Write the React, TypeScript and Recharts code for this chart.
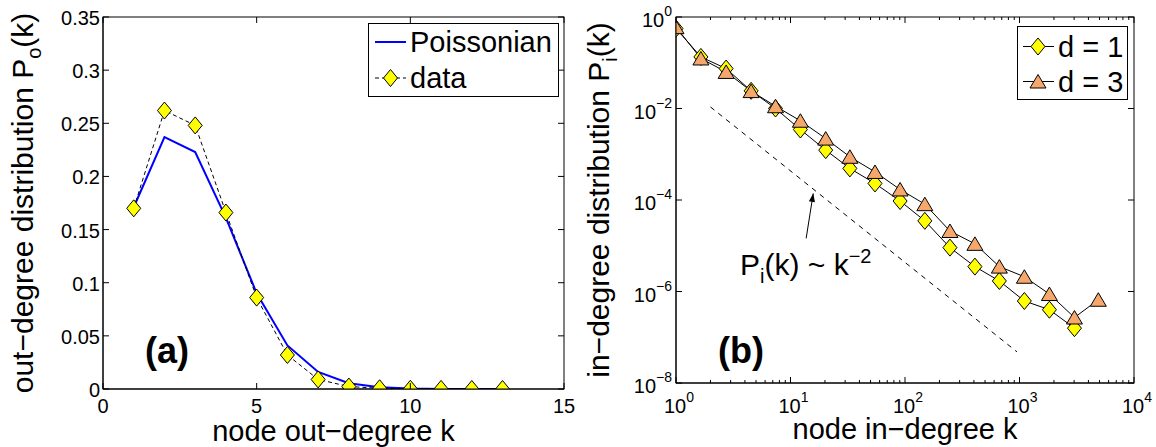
import React from "react";
import { LineChart, Line, XAxis, YAxis, Legend, ReferenceLine } from "recharts";

const FONT = "'Liberation Sans', Arial, Helvetica, sans-serif";

// (a) out-degree distribution
const outK = [1, 2, 3, 4, 5, 6, 7, 8, 9, 10, 11, 12, 13];
const outPoisson = [0.171, 0.237, 0.223, 0.161, 0.09, 0.041, 0.016, 0.0055, 0.0016, 0.0004, 0.0001, 0, 0];
const outData = [0.17, 0.262, 0.248, 0.166, 0.086, 0.032, 0.009, 0.0023, 0.0007, 0.0002, 0.0001, 0, 0];
const outXTicks = [0, 5, 10, 15];
const outYTicks = [0, 0.05, 0.1, 0.15, 0.2, 0.25, 0.3, 0.35];

// (b) in-degree distribution, log bins
const inK = [1, 1.65, 2.74, 4.53, 7.4, 12.2, 20.3, 33, 54.7, 90.6, 149, 247, 408, 667, 1103, 1825, 3020, 4880];
const inD1 = [0.56, 0.134, 0.0746, 0.0243, 0.01, 0.00347, 0.00123, 0.00049, 0.00023, 9.5e-5, 3.5e-5, 9.1e-6, 3.5e-6, 1.7e-6, 6.2e-7, 4e-7, 1.58e-7];
const inD3 = [0.6, 0.124, 0.063, 0.024, 0.0112, 0.0054, 0.0022, 0.00088, 0.00041, 0.00017, 8.1e-5, 2.1e-5, 1.1e-5, 3.5e-6, 2.1e-6, 8.8e-7, 2.7e-7, 6.6e-7];
const inXMajor = [1, 10, 100, 1000, 10000];
const inXMinor = [1, 10, 100, 1000].flatMap((d) => [2, 3, 4, 5, 6, 7, 8, 9].map((m) => m * d));
const inYTicks = [1e-8, 1e-6, 1e-4, 1e-2, 1];
const guideK = [2, 950];
const guideP = [0.0108, 4.8e-8];
const arrowK = [13.7, 15.8];
const arrowP = [1.45e-5, 1.39e-4];

const outRows = outK.map((k, i) => ({ k, poisson: outPoisson[i], data: outData[i] }));
const d1Rows = inD1.map((p, i) => ({ k: inK[i], p }));
const d3Rows = inD3.map((p, i) => ({ k: inK[i], p }));
const inXTicks = [...inXMajor, ...inXMinor].sort((a, b) => a - b);

// plot boxes (page px), matching the chart margins + axis sizes below
const boxA = { l: 103, r: 564, t: 17, b: 389 };
const boxB = { l: 676, r: 1134, t: 17, b: 383 };

const Diamond = ({ cx, cy }: any) =>
  cx == null || cy == null ? null : (
    <polygon
      points={`${cx},${cy - 8.5} ${cx + 7},${cy} ${cx},${cy + 8.5} ${cx - 7},${cy}`}
      fill="#ffff00"
      stroke="#000"
      strokeWidth={1}
    />
  );

const Triangle = ({ cx, cy }: any) =>
  cx == null || cy == null ? null : (
    <polygon
      points={`${cx},${cy - 7} ${cx + 8},${cy + 6.5} ${cx - 8},${cy + 6.5}`}
      fill="#f6a86c"
      stroke="#000"
      strokeWidth={1}
    />
  );

const exp = (v: number) => {
  const e = Math.round(Math.log10(v));
  return e < 0 ? `\u2212${-e}` : `${e}`;
};

const LinBottomTick = ({ x, y, payload }: any) => (
  <text x={x} y={y + 24} textAnchor="middle" fontSize={20} fontFamily={FONT} fill="#000">
    {payload.value}
  </text>
);
const LinLeftTick = ({ x, y, payload }: any) => (
  <text x={x - 3} y={y + 8} textAnchor="end" fontSize={20} fontFamily={FONT} fill="#000">
    {payload.value}
  </text>
);
const LogBottomTick = ({ x, y, payload }: any) =>
  inXMajor.includes(payload.value) ? (
    <text x={x + 3} y={y + 30} textAnchor="middle" fontSize={20} fontFamily={FONT} fill="#000">
      10
      <tspan dy={-11} fontSize={14}>
        {exp(payload.value)}
      </tspan>
    </text>
  ) : (
    <g />
  );
const LogLeftTick = ({ x, y, payload }: any) => (
  <text x={x - 4} y={y + 10} textAnchor="end" fontSize={20} fontFamily={FONT} fill="#000">
    10
    <tspan dy={-11} fontSize={14}>
      {exp(payload.value)}
    </tspan>
  </text>
);

// box with inward tick marks on all four sides (MATLAB "box on")
const Frame = ({ box, xs, ys, major }: any) => (
  <g stroke="#000" strokeWidth={1} fill="none">
    <rect x={box.l} y={box.t} width={box.r - box.l} height={box.b - box.t} />
    {xs.map(([v, px]: number[]) => {
      const len = major(v) ? 6 : 3;
      return (
        <g key={`x${v}`}>
          <line x1={px} y1={box.b} x2={px} y2={box.b - len} />
          <line x1={px} y1={box.t} x2={px} y2={box.t + len} />
        </g>
      );
    })}
    {ys.map(([v, py]: number[]) => (
      <g key={`y${v}`}>
        <line x1={box.l} y1={py} x2={box.l + 6} y2={py} />
        <line x1={box.r} y1={py} x2={box.r - 6} y2={py} />
      </g>
    ))}
  </g>
);

const OutLegend = ({ payload }: any) => (
  <svg width={192} height={75} style={{ display: "block" }}>
    <rect x={0.5} y={0.5} width={190} height={73} fill="#fff" stroke="#000" />
    {(payload || []).map((item: any, i: number) => {
      const cy = 19 + i * 36;
      return (
        <g key={item.value}>
          {i === 0 ? (
            <line x1={7} y1={cy} x2={38} y2={cy} stroke="#0000ff" strokeWidth={2} />
          ) : (
            <>
              <line x1={7} y1={cy} x2={38} y2={cy} stroke="#000" strokeDasharray="4 3" />
              <Diamond cx={22.5} cy={cy} />
            </>
          )}
          <text x={42} y={cy + 10} fontSize={29} fontFamily={FONT} fill="#000">
            {item.value}
          </text>
        </g>
      );
    })}
  </svg>
);

const InLegend = ({ payload }: any) => (
  <svg width={111} height={74} style={{ display: "block" }}>
    <rect x={0.5} y={0.5} width={110} height={73} fill="#fff" stroke="#000" />
    {(payload || []).map((item: any, i: number) => {
      const cy = 20.5 + i * 35;
      return (
        <g key={item.value}>
          <line x1={6} y1={cy} x2={37} y2={cy} stroke="#000" />
          {i === 0 ? <Diamond cx={21} cy={cy} /> : <Triangle cx={21} cy={cy} />}
          <text x={41} y={cy + 10} fontSize={29} fontFamily={FONT} fill="#000">
            {item.value}
          </text>
        </g>
      );
    })}
  </svg>
);

const ArrowShape = (p: any) => {
  const { x1, y1, x2, y2 } = p;
  if (x1 == null) return <g />;
  const a = Math.atan2(y2 - y1, x2 - x1);
  const L = 9;
  const w = 0.35;
  const ax = x2 - L * Math.cos(a - w);
  const ay = y2 - L * Math.sin(a - w);
  const bx = x2 - L * Math.cos(a + w);
  const by = y2 - L * Math.sin(a + w);
  return (
    <g>
      <line x1={x1} y1={y1} x2={x2} y2={y2} stroke="#000" strokeWidth={1} />
      <polygon points={`${x2},${y2} ${ax},${ay} ${bx},${by}`} fill="#000" />
    </g>
  );
};

export default function App() {
  const aX = outXTicks.map((t) => [t, boxA.l + (t / 15) * (boxA.r - boxA.l)]);
  const aY = outYTicks.map((t) => [t, boxA.b - (t / 0.35) * (boxA.b - boxA.t)]);
  const bX = inXTicks.map((t) => [t, boxB.l + (Math.log10(t) / 4) * (boxB.r - boxB.l)]);
  const bY = inYTicks.map((t) => [t, boxB.b - ((Math.log10(t) + 8) / 8) * (boxB.b - boxB.t)]);

  return (
    <div style={{ position: "absolute", left: 0, top: 0, width: 1156, height: 447, background: "#fff" }}>
      <div style={{ position: "absolute", left: 0, top: 0 }}>
        <LineChart width={580} height={447} data={outRows} margin={{ top: 17, right: 16, bottom: 0, left: 43 }}>
          <XAxis
            dataKey="k"
            type="number"
            domain={[0, 15]}
            ticks={outXTicks}
            interval={0}
            height={58}
            tickSize={0}
            tickMargin={0}
            tick={LinBottomTick}
            axisLine={{ stroke: "#000" }}
            allowDataOverflow
          />
          <YAxis
            type="number"
            domain={[0, 0.35]}
            ticks={outYTicks}
            interval={0}
            width={60}
            tickSize={0}
            tickMargin={0}
            tick={LinLeftTick}
            axisLine={{ stroke: "#000" }}
            allowDataOverflow
          />
          <Legend
            layout="horizontal"
            align="center"
            verticalAlign="middle"
            content={OutLegend}
            wrapperStyle={{ left: 368, top: 23, width: 192, height: 75 }}
          />
          <Line
            dataKey="poisson"
            name="Poissonian"
            stroke="#0000ff"
            strokeWidth={2}
            dot={false}
            isAnimationActive={false}
          />
          <Line
            dataKey="data"
            name="data"
            stroke="#000"
            strokeWidth={1}
            strokeDasharray="4 3"
            dot={(p: any) => <Diamond key={`od-${p.index}`} cx={p.cx} cy={p.cy} />}
            isAnimationActive={false}
          />
        </LineChart>
      </div>

      <div style={{ position: "absolute", left: 580, top: 0 }}>
        <LineChart width={576} height={447} margin={{ top: 17, right: 22, bottom: 0, left: 36 }}>
          <XAxis
            dataKey="k"
            type="number"
            scale="log"
            domain={[1, 10000]}
            ticks={inXTicks}
            interval={0}
            height={64}
            tickSize={0}
            tickMargin={0}
            tick={LogBottomTick}
            axisLine={{ stroke: "#000" }}
            allowDataOverflow
          />
          <YAxis
            type="number"
            scale="log"
            domain={[1e-8, 1]}
            ticks={inYTicks}
            interval={0}
            width={60}
            tickSize={0}
            tickMargin={0}
            tick={LogLeftTick}
            axisLine={{ stroke: "#000" }}
            allowDataOverflow
          />
          <ReferenceLine
            segment={[
              { x: guideK[0], y: guideP[0] },
              { x: guideK[1], y: guideP[1] },
            ]}
            stroke="#000"
            strokeWidth={1}
            strokeDasharray="5 5"
            ifOverflow="visible"
          />
          <ReferenceLine
            segment={[
              { x: arrowK[0], y: arrowP[0] },
              { x: arrowK[1], y: arrowP[1] },
            ]}
            ifOverflow="visible"
            shape={ArrowShape}
          />
          <Legend
            layout="horizontal"
            align="center"
            verticalAlign="middle"
            content={InLegend}
            wrapperStyle={{ left: 437, top: 26, width: 111, height: 74 }}
          />
          <Line
            data={d1Rows}
            dataKey="p"
            name="d = 1"
            stroke="#000"
            strokeWidth={1}
            dot={(p: any) => <Diamond key={`d1-${p.index}`} cx={p.cx} cy={p.cy} />}
            isAnimationActive={false}
          />
          <Line
            data={d3Rows}
            dataKey="p"
            name="d = 3"
            stroke="#000"
            strokeWidth={1}
            dot={(p: any) => <Triangle key={`d3-${p.index}`} cx={p.cx} cy={p.cy} />}
            isAnimationActive={false}
          />
        </LineChart>
      </div>

      <svg
        width={1156}
        height={447}
        style={{ position: "absolute", left: 0, top: 0, pointerEvents: "none" }}
        fontFamily={FONT}
        fill="#000"
      >
        <Frame box={boxA} xs={aX} ys={aY} major={() => true} />
        <Frame box={boxB} xs={bX} ys={bY} major={(v: number) => inXMajor.includes(v)} />
        <text x={33} y={203} transform="rotate(-90 33 203)" textAnchor="middle" fontSize={30}>
          out{"\u2212"}degree distribution P
          <tspan dy={8} fontSize={20}>o</tspan>
          <tspan dy={-8}>(k)</tspan>
        </text>
        <text x={609} y={200} transform="rotate(-90 609 200)" textAnchor="middle" fontSize={30}>
          in{"\u2212"}degree distribution P
          <tspan dy={8} fontSize={20}>i</tspan>
          <tspan dy={-8}>(k)</tspan>
        </text>
        <text x={333.5} y={441} textAnchor="middle" fontSize={29}>
          node out{"\u2212"}degree k
        </text>
        <text x={905} y={439} textAnchor="middle" fontSize={29}>
          node in{"\u2212"}degree k
        </text>
        <text x={145} y={363} fontSize={36} fontWeight="bold">
          (a)
        </text>
        <text x={718} y={363} fontSize={36} fontWeight="bold">
          (b)
        </text>
        <text x={740} y={275} fontSize={30}>
          P<tspan dy={8} fontSize={20}>i</tspan>
          <tspan dy={-8}>(k) ~ k</tspan>
          <tspan dy={-12} fontSize={20}>{"\u2212"}2</tspan>
        </text>
      </svg>
    </div>
  );
}
